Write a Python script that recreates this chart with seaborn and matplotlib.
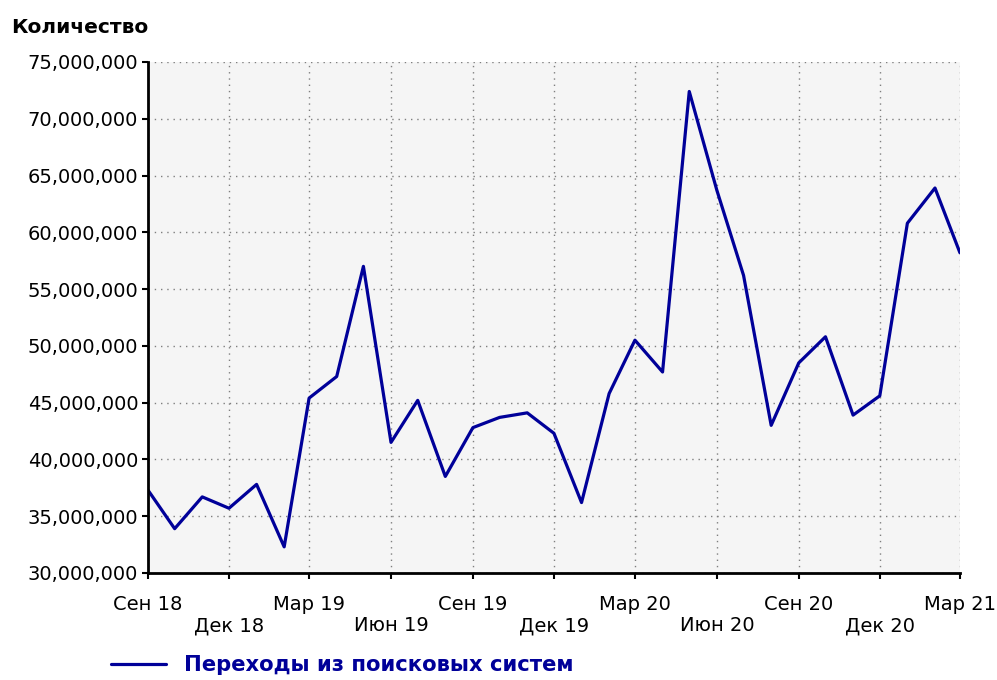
import pandas as pd
import matplotlib
matplotlib.use("Agg")
import matplotlib.pyplot as plt
import matplotlib.ticker as mticker
import seaborn as sns

# monthly values, Sep 2018 .. Mar 2021 (millions of visits)
months = pd.date_range("2018-09-01", periods=31, freq="MS")
visitsM = [37.3, 33.9, 36.7, 35.7, 37.8, 32.3, 45.4, 47.3, 57.0, 41.5,
           45.2, 38.5, 42.8, 43.7, 44.1, 42.3, 36.2, 45.8, 50.5, 47.7,
           72.4, 63.7, 56.2, 43.0, 48.5, 50.8, 43.9, 45.6, 60.8, 63.9, 58.2]
seriesName = "Переходы из поисковых систем"
yTitle = "Количество"
monthNames = {9: "Сен", 12: "Дек", 3: "Мар", 6: "Июн"}

df = pd.DataFrame({"month": months, "visits": [v * 1e6 for v in visitsM]})

sns.set_theme(style="ticks")
plt.rcParams["font.family"] = ["DejaVu Sans"]
plt.rcParams["text.color"] = "black"

fig = plt.figure(figsize=(9.97, 6.8), dpi=100)
ax = fig.add_axes([0.1484, 0.1574, 0.8144, 0.7515])
ax.set_facecolor("#f5f5f5")

sns.lineplot(data=df, x="month", y="visits", ax=ax, color="#000099",
             linewidth=2.3, label=seriesName, legend=False)

ax.set_xlim(months[0], months[-1])
ax.set_ylim(30e6, 75e6)
ax.yaxis.set_major_locator(mticker.MultipleLocator(5e6))
ax.yaxis.set_major_formatter(mticker.FuncFormatter(lambda v, _: f"{int(v):,}"))

tickDates = months[::3]
labels = []
for i, d in enumerate(tickDates):
    txt = f"{monthNames[d.month]} {d.year % 100:02d}"
    labels.append(txt if i % 2 == 0 else "\n" + txt)
ax.set_xticks(tickDates)
ax.set_xticklabels(labels, linespacing=1.15)

ax.grid(True, color="#7f7f7f", linestyle=(0, (1, 3.5)), linewidth=1.0)
ax.set_xlabel("")
ax.set_ylabel("")
for side in ["top", "right"]:
    ax.spines[side].set_visible(False)
for side in ["left", "bottom"]:
    ax.spines[side].set_linewidth(2.0)
    ax.spines[side].set_color("black")
ax.tick_params(axis="both", labelsize=14, colors="black", length=4, width=1.5, pad=3)
ax.tick_params(axis="x", pad=12)

fig.text(0.011, 0.96, yTitle, fontsize=14.5, fontweight="bold", color="black",
         ha="left", va="center")

leg = ax.legend(loc="center left", bbox_to_anchor=(0.092, 0.022),
                bbox_transform=fig.transFigure, frameon=False,
                handlelength=2.6, handletextpad=0.85,
                prop={"weight": "bold", "size": 15.2})
for t in leg.get_texts():
    t.set_color("#000099")

fig.savefig("out.png", dpi=100, facecolor="white")
